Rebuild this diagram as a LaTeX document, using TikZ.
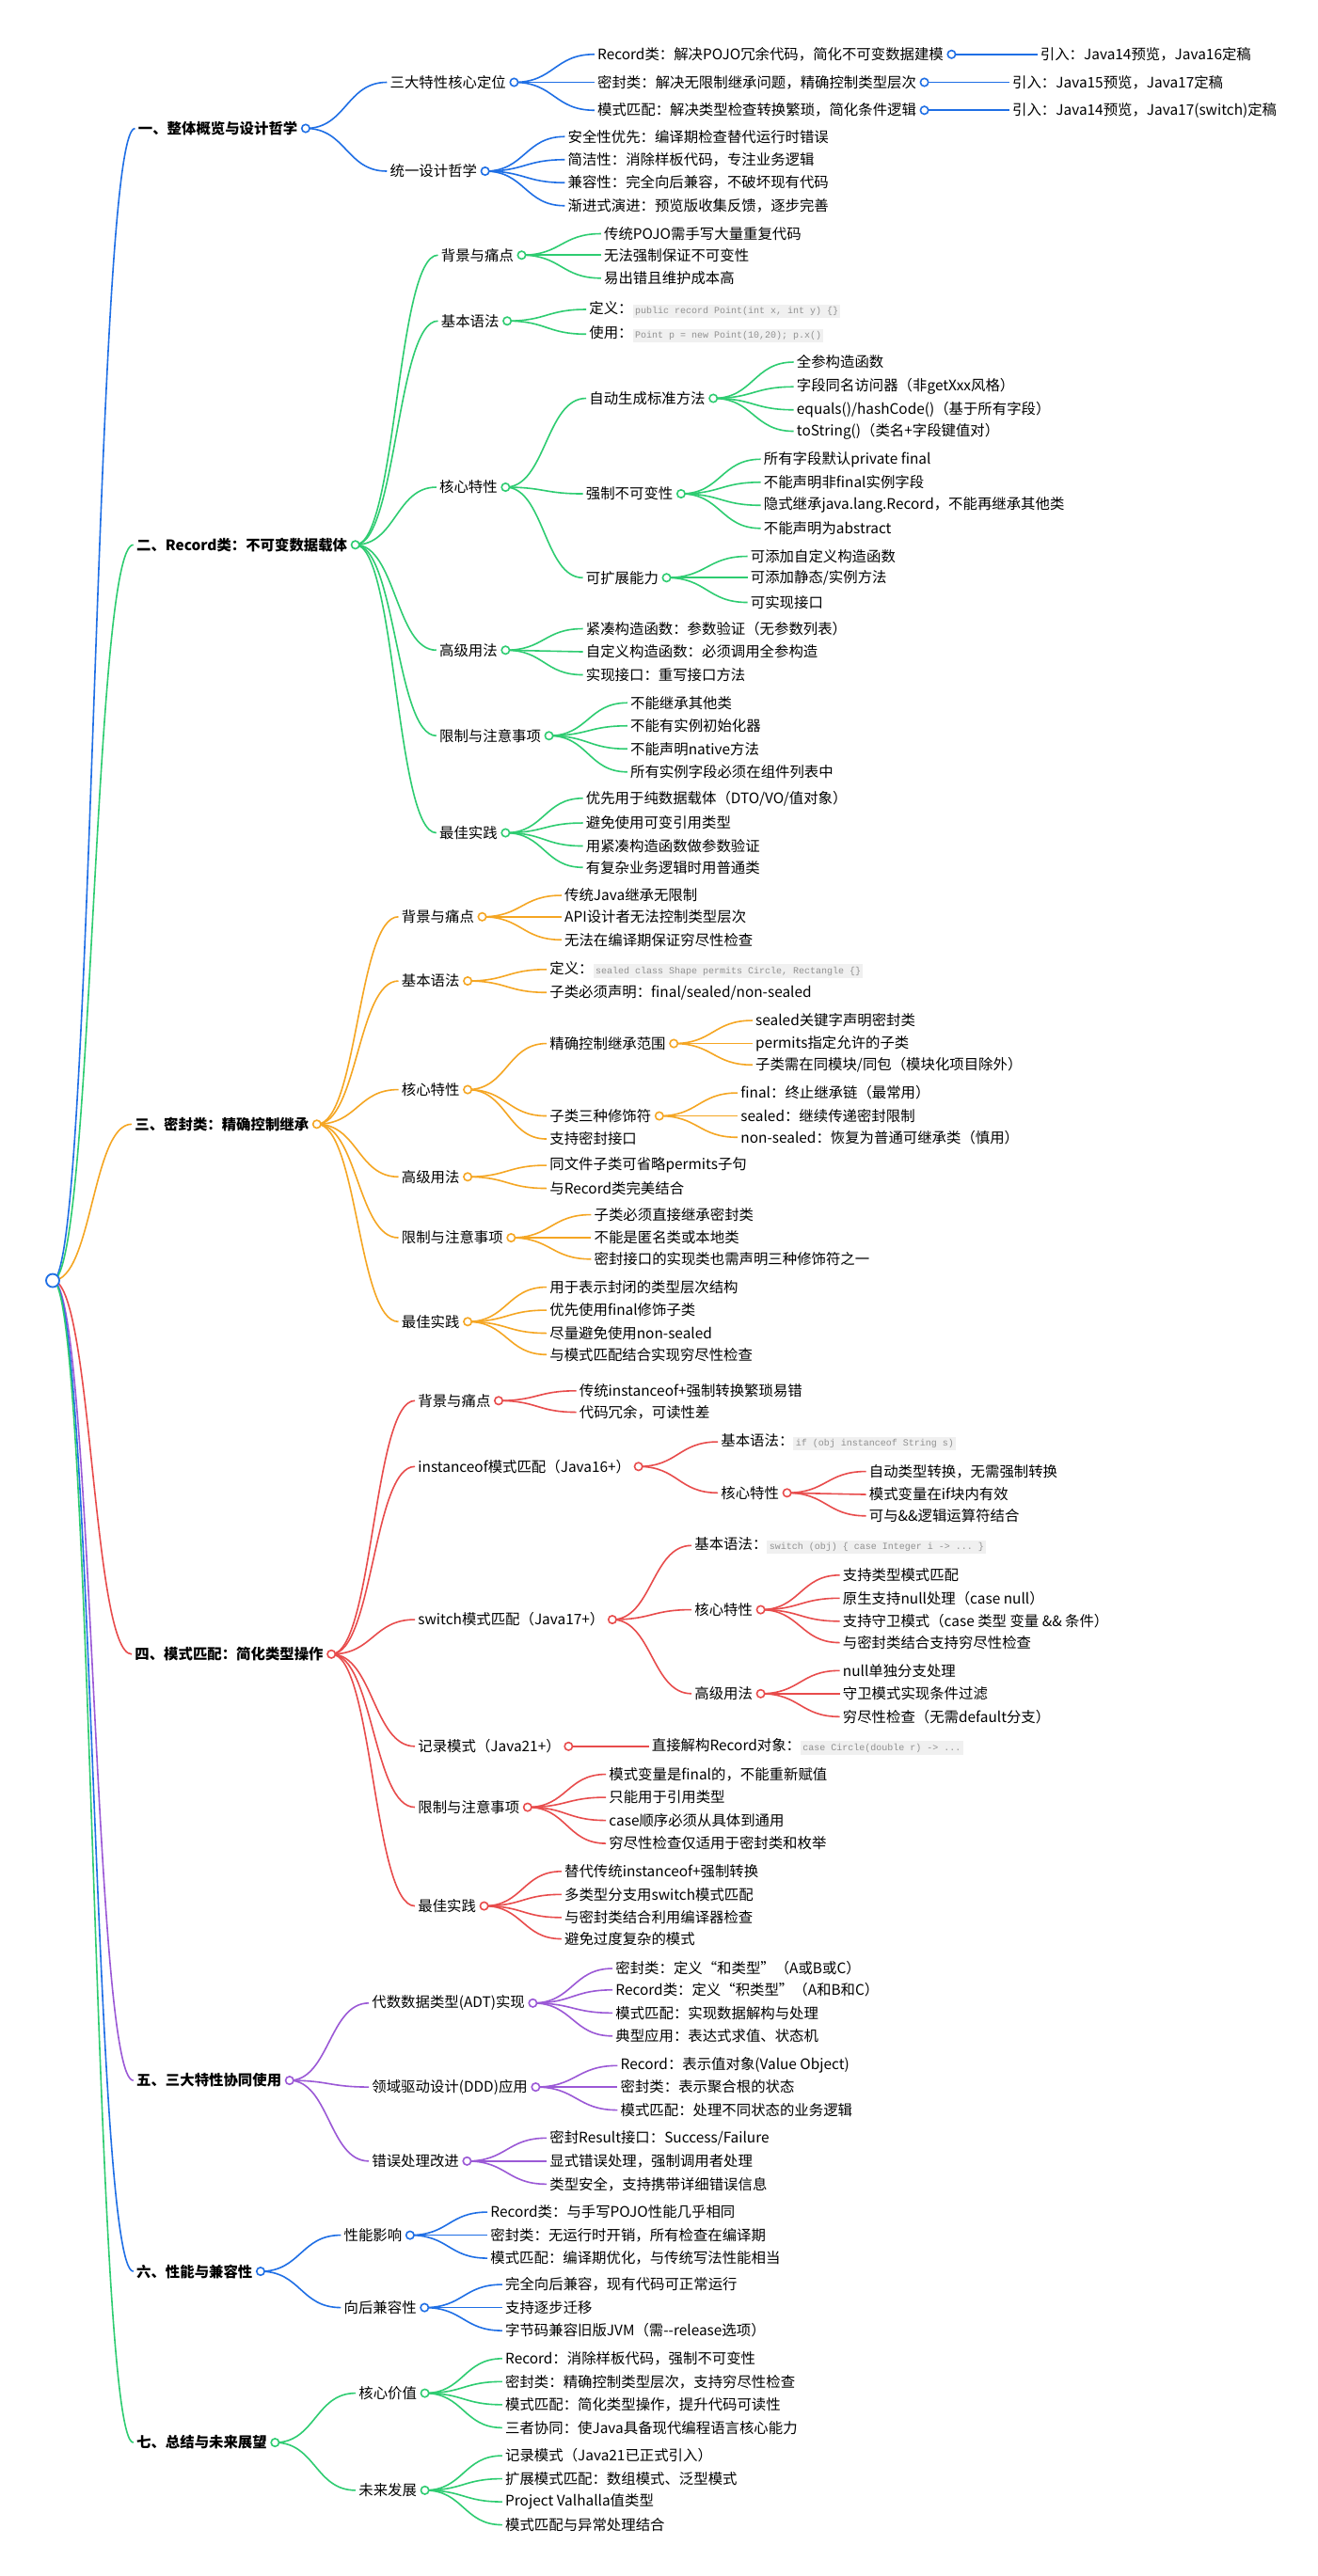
\documentclass[tikz,border=0pt]{standalone}
\usepackage{fontspec}
\setmainfont{Noto Sans CJK SC}
\setmonofont{Liberation Mono}
\usetikzlibrary{calc}
\pgfdeclarelayer{back}
\pgfdeclarelayer{bg}
\pgfsetlayers{back,bg,main}
\definecolor{cblue}{HTML}{1F6FE5}
\definecolor{cgreen}{HTML}{2ECC71}
\definecolor{corange}{HTML}{F5A623}
\definecolor{cred}{HTML}{E84C4C}
\definecolor{cpurple}{HTML}{9B59D6}
\definecolor{codebg}{HTML}{F0F0F0}
\definecolor{codefg}{HTML}{909090}
\colorlet{cur}{cblue}
\newcommand\code[1]{{\setlength{\fboxsep}{1.2pt}\colorbox{codebg}{\ttfamily\fontsize{5}{6}\selectfont\color{codefg}#1}}}
% child node plus its link from the parent hub
\newcommand\kid[5][]{%
  \node[item,#1] (#3) at (#4) {#5};
  \begin{pgfonlayer}{bg}
    \draw[link] (#2C) .. controls ($(#2C)!.5!(#2C -| #3.west)$) and ($(#3.west)!.5!(#3.west -| #2C)$) .. (#3.west);
  \end{pgfonlayer}}
\newcommand\hub[1]{%
  \coordinate (#1C) at ($(#1.east)+(2.6pt,0)$);
  \draw[hubdot] (#1C) circle (2.1pt);}
\begin{document}
\begin{tikzpicture}[x=0.875pt,y=-0.875pt,
    item/.style={anchor=west,inner sep=1.5pt,font=\fontsize{7.7}{9}\selectfont},
    top/.style={font=\fontsize{7.7}{9}\selectfont\bfseries},
    link/.style={draw=cur,line width=0.8pt},
    hubdot/.style={draw=cur,fill=white,line width=0.8pt}]
  \begin{pgfonlayer}{back}
    \fill[white] (0,0) rectangle (800,1565.1);
  \end{pgfonlayer}
  \useasboundingbox (0,0) rectangle (800,1565.1);
  \coordinate (rootC) at (32,778);

  % 一
  \begin{scope}\colorlet{cur}{cblue}
    \kid[top]{root}{s1}{82,78}{一、整体概览与设计哲学}\hub{s1}
    \kid{s1}{s1a}{235,50}{三大特性核心定位}\hub{s1a}
    \kid{s1a}{s1aa}{361,33}{Record类：解决POJO冗余代码，简化不可变数据建模}\hub{s1aa}
    \kid{s1aa}{s1aax}{630,33}{引入：Java14预览，Java16定稿}
    \kid{s1a}{s1ab}{361,50}{密封类：解决无限制继承问题，精确控制类型层次}\hub{s1ab}
    \kid{s1ab}{s1abx}{613,50}{引入：Java15预览，Java17定稿}
    \kid{s1a}{s1ac}{361,67}{模式匹配：解决类型检查转换繁琐，简化条件逻辑}\hub{s1ac}
    \kid{s1ac}{s1acx}{613,67}{引入：Java14预览，Java17(switch)定稿}
    \kid{s1}{s1b}{235,104}{统一设计哲学}\hub{s1b}
    \kid{s1b}{s1b1}{343,83}{安全性优先：编译期检查替代运行时错误}
    \kid{s1b}{s1b2}{343,97}{简洁性：消除样板代码，专注业务逻辑}
    \kid{s1b}{s1b3}{343,111}{兼容性：完全向后兼容，不破坏现有代码}
    \kid{s1b}{s1b4}{343,125}{渐进式演进：预览版收集反馈，逐步完善}
  \end{scope}

  % 二
  \begin{scope}\colorlet{cur}{cgreen}
    \kid[top]{root}{s2}{81,331}{二、Record类：不可变数据载体}\hub{s2}
    \kid{s2}{s2a}{266,155}{背景与痛点}\hub{s2a}
    \kid{s2a}{s2a1}{365,142}{传统POJO需手写大量重复代码}
    \kid{s2a}{s2a2}{365,155}{无法强制保证不可变性}
    \kid{s2a}{s2a3}{365,169}{易出错且维护成本高}
    \kid{s2}{s2b}{266,195}{基本语法}\hub{s2b}
    \kid{s2b}{s2b1}{356,188}{定义：\code{public record Point(int x, int y) \{\}}}
    \kid{s2b}{s2b2}{356,203}{使用：\code{Point p = new Point(10,20); p.x()}}
    \kid{s2}{s2c}{265,296}{核心特性}\hub{s2c}
    \kid{s2c}{s2c1}{356,242}{自动生成标准方法}\hub{s2c1}
    \kid{s2c1}{s2c11}{482,220}{全参构造函数}
    \kid{s2c1}{s2c12}{482,235}{字段同名访问器（非getXxx风格）}
    \kid{s2c1}{s2c13}{482,249}{equals()/hashCode()（基于所有字段）}
    \kid{s2c1}{s2c14}{482,262}{toString()（类名+字段键值对）}
    \kid{s2c}{s2c2}{354,300}{强制不可变性}\hub{s2c2}
    \kid{s2c2}{s2c21}{462,279}{所有字段默认private final}
    \kid{s2c2}{s2c22}{462,293}{不能声明非final实例字段}
    \kid{s2c2}{s2c23}{462,307}{隐式继承java.lang.Record，不能再继承其他类}
    \kid{s2c2}{s2c24}{462,321}{不能声明为abstract}
    \kid{s2c}{s2c3}{354,351}{可扩展能力}\hub{s2c3}
    \kid{s2c3}{s2c31}{454,338}{可添加自定义构造函数}
    \kid{s2c3}{s2c32}{454,351}{可添加静态/实例方法}
    \kid{s2c3}{s2c33}{454,366}{可实现接口}
    \kid{s2}{s2d}{265,395}{高级用法}\hub{s2d}
    \kid{s2d}{s2d1}{354,382}{紧凑构造函数：参数验证（无参数列表）}
    \kid{s2d}{s2d2}{354,396}{自定义构造函数：必须调用全参构造}
    \kid{s2d}{s2d3}{354,410}{实现接口：重写接口方法}
    \kid{s2}{s2e}{265,447}{限制与注意事项}\hub{s2e}
    \kid{s2e}{s2e1}{381,427}{不能继承其他类}
    \kid{s2e}{s2e2}{381,441}{不能有实例初始化器}
    \kid{s2e}{s2e3}{381,455}{不能声明native方法}
    \kid{s2e}{s2e4}{381,469}{所有实例字段必须在组件列表中}
    \kid{s2}{s2f}{265,506}{最佳实践}\hub{s2f}
    \kid{s2f}{s2f1}{354,485}{优先用于纯数据载体（DTO/VO/值对象）}
    \kid{s2f}{s2f2}{354,500}{避免使用可变引用类型}
    \kid{s2f}{s2f3}{354,514}{用紧凑构造函数做参数验证}
    \kid{s2f}{s2f4}{354,527}{有复杂业务逻辑时用普通类}
  \end{scope}

  % 三
  \begin{scope}\colorlet{cur}{corange}
    \kid[top]{root}{s3}{80,683}{三、密封类：精确控制继承}\hub{s3}
    \kid{s3}{s3a}{242,557}{背景与痛点}\hub{s3a}
    \kid{s3a}{s3a1}{341,544}{传统Java继承无限制}
    \kid{s3a}{s3a2}{341,557}{API设计者无法控制类型层次}
    \kid{s3a}{s3a3}{341,571}{无法在编译期保证穷尽性检查}
    \kid{s3}{s3b}{242,596}{基本语法}\hub{s3b}
    \kid{s3b}{s3b1}{332,589}{定义：\code{sealed class Shape permits Circle, Rectangle \{\}}}
    \kid{s3b}{s3b2}{332,603}{子类必须声明：final/sealed/non-sealed}
    \kid{s3}{s3c}{242,662}{核心特性}\hub{s3c}
    \kid{s3c}{s3c1}{332,634}{精确控制继承范围}\hub{s3c1}
    \kid{s3c1}{s3c11}{457,620}{sealed关键字声明密封类}
    \kid{s3c1}{s3c12}{457,634}{permits指定允许的子类}
    \kid{s3c1}{s3c13}{457,647}{子类需在同模块/同包（模块化项目除外）}
    \kid{s3c}{s3c2}{332,678}{子类三种修饰符}\hub{s3c2}
    \kid{s3c2}{s3c21}{448,664}{final：终止继承链（最常用）}
    \kid{s3c2}{s3c22}{448,678}{sealed：继续传递密封限制}
    \kid{s3c2}{s3c23}{448,691}{non-sealed：恢复为普通可继承类（慎用）}
    \kid{s3c}{s3c3}{332,692}{支持密封接口}
    \kid{s3}{s3d}{242,715}{高级用法}\hub{s3d}
    \kid{s3d}{s3d1}{332,708}{同文件子类可省略permits子句}
    \kid{s3d}{s3d2}{332,722}{与Record类完美结合}
    \kid{s3}{s3e}{242,752}{限制与注意事项}\hub{s3e}
    \kid{s3e}{s3e1}{359,738}{子类必须直接继承密封类}
    \kid{s3e}{s3e2}{359,752}{不能是匿名类或本地类}
    \kid{s3e}{s3e3}{359,765}{密封接口的实现类也需声明三种修饰符之一}
    \kid{s3}{s3f}{242,803}{最佳实践}\hub{s3f}
    \kid{s3f}{s3f1}{332,782}{用于表示封闭的类型层次结构}
    \kid{s3f}{s3f2}{332,796}{优先使用final修饰子类}
    \kid{s3f}{s3f3}{332,810}{尽量避免使用non-sealed}
    \kid{s3f}{s3f4}{332,823}{与模式匹配结合实现穷尽性检查}
  \end{scope}

  % 四
  \begin{scope}\colorlet{cur}{cred}
    \kid[top]{root}{s4}{80,1005}{四、模式匹配：简化类型操作}\hub{s4}
    \kid{s4}{s4a}{252,851}{背景与痛点}\hub{s4a}
    \kid{s4a}{s4a1}{350,845}{传统instanceof+强制转换繁琐易错}
    \kid{s4a}{s4a2}{350,858}{代码冗余，可读性差}
    \kid{s4}{s4b}{252,891}{instanceof模式匹配（Java16+）}\hub{s4b}
    \kid{s4b}{s4b1}{436,876}{基本语法：\code{if (obj instanceof String s)}}
    \kid{s4b}{s4b2}{436,907}{核心特性}\hub{s4b2}
    \kid{s4b2}{s4b21}{526,894}{自动类型转换，无需强制转换}
    \kid{s4b2}{s4b22}{526,908}{模式变量在if块内有效}
    \kid{s4b2}{s4b23}{526,921}{可与\&\&逻辑运算符结合}
    \kid{s4}{s4c}{252,984}{switch模式匹配（Java17+）}\hub{s4c}
    \kid{s4c}{s4c1}{420,939}{基本语法：\code{switch (obj) \{ case Integer i -> ... \}}}
    \kid{s4c}{s4c2}{420,978}{核心特性}\hub{s4c2}
    \kid{s4c2}{s4c21}{510,957}{支持类型模式匹配}
    \kid{s4c2}{s4c22}{510,971}{原生支持null处理（case null）}
    \kid{s4c2}{s4c23}{510,985}{支持守卫模式（case 类型 变量 \&\& 条件）}
    \kid{s4c2}{s4c24}{510,998}{与密封类结合支持穷尽性检查}
    \kid{s4c}{s4c3}{420,1029}{高级用法}\hub{s4c3}
    \kid{s4c3}{s4c31}{510,1015}{null单独分支处理}
    \kid{s4c3}{s4c32}{510,1029}{守卫模式实现条件过滤}
    \kid{s4c3}{s4c33}{510,1043}{穷尽性检查（无需default分支）}
    \kid{s4}{s4d}{252,1061}{记录模式（Java21+）}\hub{s4d}
    \kid{s4d}{s4d1}{394,1061}{直接解构Record对象：\code{case Circle(double r) -> ...}}
    \kid{s4}{s4e}{252,1098}{限制与注意事项}\hub{s4e}
    \kid{s4e}{s4e1}{368,1078}{模式变量是final的，不能重新赋值}
    \kid{s4e}{s4e2}{368,1092}{只能用于引用类型}
    \kid{s4e}{s4e3}{368,1106}{case顺序必须从具体到通用}
    \kid{s4e}{s4e4}{368,1120}{穷尽性检查仅适用于密封类和枚举}
    \kid{s4}{s4f}{252,1158}{最佳实践}\hub{s4f}
    \kid{s4f}{s4f1}{341,1137}{替代传统instanceof+强制转换}
    \kid{s4f}{s4f2}{341,1151}{多类型分支用switch模式匹配}
    \kid{s4f}{s4f3}{341,1165}{与密封类结合利用编译器检查}
    \kid{s4f}{s4f4}{341,1178}{避免过度复杂的模式}
  \end{scope}

  % 五
  \begin{scope}\colorlet{cur}{cpurple}
    \kid[top]{root}{s5}{81,1264}{五、三大特性协同使用}\hub{s5}
    \kid{s5}{s5a}{224,1217}{代数数据类型(ADT)实现}\hub{s5a}
    \kid{s5a}{s5a1}{372,1196}{密封类：定义“和类型”（A或B或C）}
    \kid{s5a}{s5a2}{372,1209}{Record类：定义“积类型”（A和B和C）}
    \kid{s5a}{s5a3}{372,1223}{模式匹配：实现数据解构与处理}
    \kid{s5a}{s5a4}{372,1237}{典型应用：表达式求值、状态机}
    \kid{s5}{s5b}{224,1268}{领域驱动设计(DDD)应用}\hub{s5b}
    \kid{s5b}{s5b1}{375,1255}{Record：表示值对象(Value Object)}
    \kid{s5b}{s5b2}{375,1268}{密封类：表示聚合根的状态}
    \kid{s5b}{s5b3}{375,1282}{模式匹配：处理不同状态的业务逻辑}
    \kid{s5}{s5c}{224,1313}{错误处理改进}\hub{s5c}
    \kid{s5c}{s5c1}{332,1299}{密封Result接口：Success/Failure}
    \kid{s5c}{s5c2}{332,1313}{显式错误处理，强制调用者处理}
    \kid{s5c}{s5c3}{332,1327}{类型安全，支持携带详细错误信息}
  \end{scope}

  % 六
  \begin{scope}\colorlet{cur}{cblue}
    \kid[top]{root}{s6}{81,1380}{六、性能与兼容性}\hub{s6}
    \kid{s6}{s6a}{207,1358}{性能影响}\hub{s6a}
    \kid{s6a}{s6a1}{296,1344}{Record类：与手写POJO性能几乎相同}
    \kid{s6a}{s6a2}{296,1358}{密封类：无运行时开销，所有检查在编译期}
    \kid{s6a}{s6a3}{296,1372}{模式匹配：编译期优化，与传统写法性能相当}
    \kid{s6}{s6b}{207,1402}{向后兼容性}\hub{s6b}
    \kid{s6b}{s6b1}{305,1388}{完全向后兼容，现有代码可正常运行}
    \kid{s6b}{s6b2}{305,1402}{支持逐步迁移}
    \kid{s6b}{s6b3}{305,1416}{字节码兼容旧版JVM（需-{}-release选项）}
  \end{scope}

  % 七
  \begin{scope}\colorlet{cur}{cgreen}
    \kid[top]{root}{s7}{81,1484}{七、总结与未来展望}\hub{s7}
    \kid{s7}{s7a}{216,1454}{核心价值}\hub{s7a}
    \kid{s7a}{s7a1}{305,1433}{Record：消除样板代码，强制不可变性}
    \kid{s7a}{s7a2}{305,1447}{密封类：精确控制类型层次，支持穷尽性检查}
    \kid{s7a}{s7a3}{305,1461}{模式匹配：简化类型操作，提升代码可读性}
    \kid{s7a}{s7a4}{305,1475}{三者协同：使Java具备现代编程语言核心能力}
    \kid{s7}{s7b}{216,1513}{未来发展}\hub{s7b}
    \kid{s7b}{s7b1}{305,1492}{记录模式（Java21已正式引入）}
    \kid{s7b}{s7b2}{305,1506}{扩展模式匹配：数组模式、泛型模式}
    \kid{s7b}{s7b3}{305,1520}{Project Valhalla值类型}
    \kid{s7b}{s7b4}{305,1534}{模式匹配与异常处理结合}
  \end{scope}

  \draw[draw=cblue,fill=white,line width=0.9pt] (rootC) circle (3.5pt);
\end{tikzpicture}
\end{document}
